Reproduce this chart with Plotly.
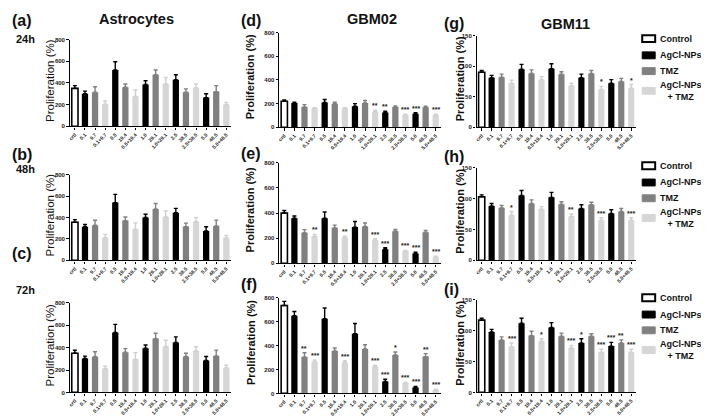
import plotly.graph_objects as go

W, H = 709, 416

categories = ["crtl", "0.1", "9.7", "0.1+9.7", "0.5", "19.4", "0.5+19.4", "1.0",
              "29.1", "1.0+29.1", "2.5", "38.5", "2.5+38.5", "5.0", "48.5", "5.0+48.5"]
# group of each category: 0 control, 1 AgCl-NPs, 2 TMZ, 3 AgCl-NPs + TMZ
groups = [0, 1, 2, 3, 1, 2, 3, 1, 2, 3, 1, 2, 3, 1, 2, 3]
legend_labels = ["Control", "AgCl-NPs", "TMZ", "AgCl-NPs<br>   + TMZ"]

# ---- Astrocytes ----
astro_24h = [350, 300, 315, 205, 520, 360, 275, 385, 475, 390, 430, 315, 355, 265, 320, 200]
astro_24h_err = [25, 25, 50, 28, 75, 30, 60, 35, 45, 60, 45, 30, 35, 35, 55, 20]
astro_48h = [355, 313, 328, 211, 539, 371, 290, 400, 480, 405, 445, 315, 360, 275, 320, 210]
astro_48h_err = [25, 21, 46, 31, 77, 34, 60, 30, 50, 55, 40, 32, 40, 38, 55, 22]
astro_72h = [350, 302, 318, 212, 535, 359, 295, 395, 480, 410, 445, 320, 370, 285, 325, 220]
astro_72h_err = [26, 22, 45, 22, 72, 32, 60, 28, 48, 55, 50, 30, 38, 35, 52, 22]

# ---- GBM02 ----
gbm02_24h = [220, 205, 172, 160, 210, 200, 160, 178, 205, 132, 125, 172, 105, 115, 170, 105]
gbm02_24h_err = [12, 8, 20, 5, 25, 12, 5, 22, 22, 12, 12, 8, 5, 8, 8, 5]
gbm02_48h = [400, 358, 243, 215, 358, 282, 206, 288, 293, 186, 112, 255, 97, 78, 248, 52]
gbm02_48h_err = [20, 18, 25, 15, 50, 22, 10, 45, 28, 10, 12, 14, 5, 10, 14, 5]
gbm02_72h = [735, 650, 305, 265, 625, 355, 258, 500, 372, 225, 100, 322, 88, 50, 308, 30]
gbm02_72h_err = [35, 35, 35, 15, 90, 25, 15, 85, 35, 12, 18, 25, 5, 8, 25, 5]

# ---- GBM11 ----
gbm11_24h = [90, 81, 82, 72, 95, 88, 78, 96, 87, 68, 81, 88, 62, 72, 75, 64]
gbm11_24h_err = [3, 4, 5, 5, 8, 6, 5, 8, 4, 4, 6, 5, 5, 6, 5, 6]
gbm11_48h = [103, 88, 85, 73, 105, 92, 83, 102, 91, 71, 84, 90, 65, 76, 79, 65]
gbm11_48h_err = [3, 4, 4, 6, 8, 6, 4, 8, 4, 4, 6, 4, 4, 6, 5, 4]
gbm11_72h = [117, 98, 85, 74, 112, 92, 83, 105, 91, 72, 80, 91, 65, 75, 80, 65]
gbm11_72h_err = [3, 4, 5, 6, 8, 7, 4, 8, 5, 4, 7, 4, 5, 6, 5, 5]

# ---- significance marks ----
no_stars = [""] * 16
gbm02_24h_stars = ["", "", "", "", "", "", "", "", "", "**", "**", "", "***", "***", "", "***"]
gbm02_48h_stars = ["", "", "", "**", "", "", "**", "", "", "***", "***", "", "***", "***", "", "***"]
gbm02_72h_stars = ["", "", "**", "***", "", "", "***", "", "", "***", "***", "*", "***", "***", "**", "***"]
gbm11_24h_stars = ["", "", "", "", "", "", "", "", "", "", "", "", "*", "", "", "*"]
gbm11_48h_stars = ["", "", "", "*", "", "", "", "", "", "**", "", "", "***", "", "", "***"]
gbm11_72h_stars = ["", "", "", "***", "", "", "*", "", "", "***", "*", "", "***", "***", "**", "***"]

fills = ["#ffffff", "#000000", "#808080", "#d6d6d6"]
err_colors = ["#000000", "#000000", "#808080", "#d0d0d0"]
FONT = "Liberation Sans, Arial, sans-serif"

# panel: (letter, values, errors, stars, ymax, ytick step, x-domain px, y-domain px)
panels = [
    ("a", astro_24h, astro_24h_err, no_stars, 800, 200, (60, 222), (29, 117)),
    ("d", gbm02_24h, gbm02_24h_err, gbm02_24h_stars, 800, 200, (270, 432), (22, 118)),
    ("g", gbm11_24h, gbm11_24h_err, gbm11_24h_stars, 150, 50, (468, 628), (25, 118)),
    ("b", astro_48h, astro_48h_err, no_stars, 800, 200, (60, 222), (166, 253)),
    ("e", gbm02_48h, gbm02_48h_err, gbm02_48h_stars, 800, 200, (270, 432), (154, 256)),
    ("h", gbm11_48h, gbm11_48h_err, gbm11_48h_stars, 150, 50, (468, 628), (159, 253)),
    ("c", astro_72h, astro_72h_err, no_stars, 800, 200, (60, 222), (296, 387)),
    ("f", gbm02_72h, gbm02_72h_err, gbm02_72h_stars, 800, 200, (270, 432), (291, 388)),
    ("i", gbm11_72h, gbm11_72h_err, gbm11_72h_stars, 150, 50, (468, 628), (293, 387)),
]

fig = go.Figure()
annotations = []
shapes = []
layout = {}

for k, (letter, vals, errs, stars, ymax, step, xd, yd) in enumerate(panels, start=1):
    xa = "x" if k == 1 else f"x{k}"
    ya = "y" if k == 1 else f"y{k}"
    for g in range(4):
        idx = [i for i in range(16) if groups[i] == g]
        fig.add_trace(go.Bar(
            x=[categories[i] for i in idx],
            y=[vals[i] for i in idx],
            error_y=dict(type="data", symmetric=False,
                         array=[errs[i] for i in idx], arrayminus=[0] * len(idx),
                         color=err_colors[g], thickness=1.4, width=2),
            marker=dict(color=fills[g],
                        line=dict(color="#000000", width=1.6 if g == 0 else 0)),
            width=0.62, showlegend=False, xaxis=xa, yaxis=ya, hoverinfo="skip",
        ))
    for i in range(16):
        if stars[i]:
            # category axes: use the category's index position
            annotations.append(dict(
                x=i, y=vals[i] + errs[i], xref=xa, yref=ya,
                text=stars[i], showarrow=False, yanchor="bottom", yshift=-1,
                font=dict(family=FONT, size=7, color="#222222", weight="bold")))
    xkey = "xaxis" if k == 1 else f"xaxis{k}"
    ykey = "yaxis" if k == 1 else f"yaxis{k}"
    layout[xkey] = dict(
        domain=[xd[0] / W, xd[1] / W], anchor=ya, type="category",
        categoryorder="array", categoryarray=categories, range=[-0.5, 15.5],
        showline=True, linecolor="#000000", linewidth=1.4, ticks="outside",
        ticklen=2.5, tickwidth=1, tickcolor="#000", tickangle=-45,
        tickfont=dict(family=FONT, size=5, color="#222", weight="bold"),
        showgrid=False, zeroline=False, fixedrange=True)
    layout[ykey] = dict(
        domain=[1 - yd[1] / H, 1 - yd[0] / H], anchor=xa, range=[0, ymax],
        tickmode="array", tickvals=list(range(0, ymax + 1, step)),
        showline=True, linecolor="#000000", linewidth=1.4, ticks="outside",
        ticklen=2.5, tickwidth=1, tickcolor="#000",
        tickfont=dict(family=FONT, size=6, color="#222", weight="bold"),
        showgrid=False, zeroline=False, fixedrange=True)

# headings
def ann(text, x, y, size, bold=True, angle=0, xanchor="center"):
    annotations.append(dict(
        text=text, x=x / W, y=1 - y / H, xref="paper", yref="paper",
        showarrow=False, xanchor=xanchor, yanchor="middle", textangle=angle,
        font=dict(family=FONT, size=size, color="#111",
                  weight="bold" if bold else "normal")))

ann("Astrocytes", 127, 8, 14.5)
ann("GBM02", 363, 8, 14.5)
ann("GBM11", 557, 13, 14.5)
for t, x, y in [("(a)", 0, 10), ("(b)", 0, 146), ("(c)", 0, 246),
                ("(d)", 230, 10), ("(e)", 230, 145), ("(f)", 230, 278),
                ("(g)", 433, 13), ("(h)", 433, 148), ("(i)", 433, 283)]:
    ann(t, x, y, 16, xanchor="left")
for t, y in [("24h", 28), ("48h", 160), ("72h", 283)]:
    ann(t, 4, y, 11, xanchor="left")

# y-axis titles
for (x, bold, size), rows in [((40, False, 11.5), [(29, 117), (166, 253), (296, 387)]),
                              ((241, True, 11), [(22, 118), (154, 256), (291, 388)]),
                              ((451, True, 11), [(25, 118), (159, 253), (293, 387)])]:
    for (y0, y1) in rows:
        ann("Proliferation (%)", x, (y0 + y1) / 2 - 3, size, bold=bold, angle=-90)

# legends (one per row)
for off in [0, 129, 263]:
    ys = [28, 45, 61, 81]
    for g in range(4):
        y = ys[g] + off
        shapes.append(dict(type="rect", xref="paper", yref="paper",
                           x0=634 / W, x1=647 / W, y0=1 - (y + 3.5) / H, y1=1 - (y - 3.5) / H,
                           fillcolor=fills[g],
                           line=dict(color="#000" if g < 2 else fills[g], width=2 if g == 0 else 1)))
        annotations.append(dict(
            text=legend_labels[g], x=651 / W, y=1 - y / H, xref="paper", yref="paper",
            showarrow=False, xanchor="left", yanchor="middle", align="left",
            borderpad=0,
            font=dict(family=FONT, size=9, color="#111", weight="bold")))

fig.update_layout(
    width=W, height=H, margin=dict(l=0, r=0, t=0, b=0),
    paper_bgcolor="white", plot_bgcolor="white", barmode="overlay",
    showlegend=False, annotations=annotations, shapes=shapes, **layout)

fig.write_html("out.html")
